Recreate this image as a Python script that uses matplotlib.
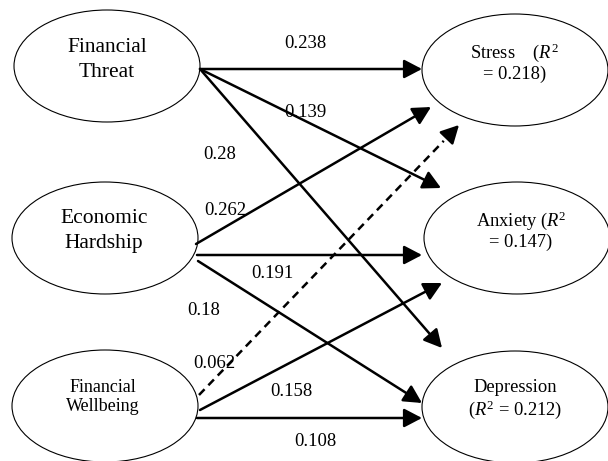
import matplotlib
matplotlib.use('agg')
from matplotlib import pyplot as plt
from matplotlib.patches import Ellipse, FancyArrowPatch

plt.rcParams['font.family'] = 'Liberation Serif'
plt.rcParams['mathtext.fontset'] = 'custom'
plt.rcParams['mathtext.rm'] = 'Liberation Serif'
plt.rcParams['mathtext.it'] = 'Liberation Serif:italic'

# model values
predictors = ['Financial\nThreat', 'Economic\nHardship', 'Financial\nWellbeing']
outcomes = ['Stress', 'Anxiety', 'Depression']
r_squared = [0.218, 0.147, 0.212]
outcome_formats = ['{name}    ($R^2$\n= {r2})', '{name} ($R^2$\n= {r2})', '{name}\n($R^2$ = {r2})']
path_from = [0, 0, 0, 1, 1, 1, 2, 2, 2]
path_to = [0, 1, 2, 0, 1, 2, 0, 1, 2]
coefs = [0.238, 0.139, 0.28, 0.262, 0.191, 0.18, 0.062, 0.158, 0.108]
significant = [True, True, True, True, True, True, False, True, True]

# layout (pixel coords, y down)
pred_centre = [(107, 66), (105, 238), (105, 406)]
pred_text = [(107, 60), (104, 231), (103, 397)]
pred_fontsize = [15.5, 15.5, 13]
pred_spacing = [1.45, 1.45, 1.15]
out_centre = [(515, 70), (517, 238), (515, 407)]
out_text = [(515, 62), (521, 230), (515, 400)]
node_w, node_h = 186, 112

path_start = [(200, 69), (200, 69), (200, 69), (196, 244), (197, 255), (198, 261),
              (199, 395), (200, 410), (197, 418)]
path_end = [(422, 69), (441, 188), (442, 348), (431, 107), (422, 255), (422, 403),
            (459, 125), (442, 283), (422, 418)]
label_pos = [(305, 43), (305, 112), (220, 154), (225, 210), (272, 273), (204, 310),
             (214, 363), (291, 391), (315, 441)]


def draw_arrow(ax, start, end, dashed):
    style = dict(arrowstyle='-|>,head_length=0.42,head_width=0.22', mutation_scale=26,
                 shrinkA=0, shrinkB=0, color='black', lw=1.8)
    if not dashed:
        ax.add_patch(FancyArrowPatch(start, end, **style))
        return
    dx, dy = end[0] - start[0], end[1] - start[1]
    length = (dx ** 2 + dy ** 2) ** 0.5
    ux, uy = dx / length, dy / length
    mid = (end[0] - ux * 22, end[1] - uy * 22)
    ax.plot([start[0], mid[0]], [start[1], mid[1]], color='black', lw=1.8,
            linestyle=(0, (3.2, 2.2)))
    ax.add_patch(FancyArrowPatch((end[0] - ux * 17, end[1] - uy * 17), end, **style))


fig = plt.figure(figsize=(6.08, 4.61), dpi=100)
ax = fig.add_axes([0, 0, 1, 1])
ax.set_xlim(0, 608)
ax.set_ylim(461, 0)
ax.axis('off')

for i, name in enumerate(predictors):
    ax.add_patch(Ellipse(pred_centre[i], node_w, node_h, fill=False, lw=0.8, ec='black'))
    ax.text(pred_text[i][0], pred_text[i][1], name, ha='center', va='center',
            fontsize=pred_fontsize[i], linespacing=pred_spacing[i])

for i, name in enumerate(outcomes):
    ax.add_patch(Ellipse(out_centre[i], node_w, node_h, fill=False, lw=0.8, ec='black'))
    ax.text(out_text[i][0], out_text[i][1], outcome_formats[i].format(name=name, r2=r_squared[i]),
            ha='center', va='center', fontsize=13.3, linespacing=1.15)

for k in range(len(coefs)):
    draw_arrow(ax, path_start[k], path_end[k], not significant[k])
    ax.text(label_pos[k][0], label_pos[k][1], str(coefs[k]), ha='center', va='center',
            fontsize=13.5)

fig.savefig('out.png', dpi=100)
